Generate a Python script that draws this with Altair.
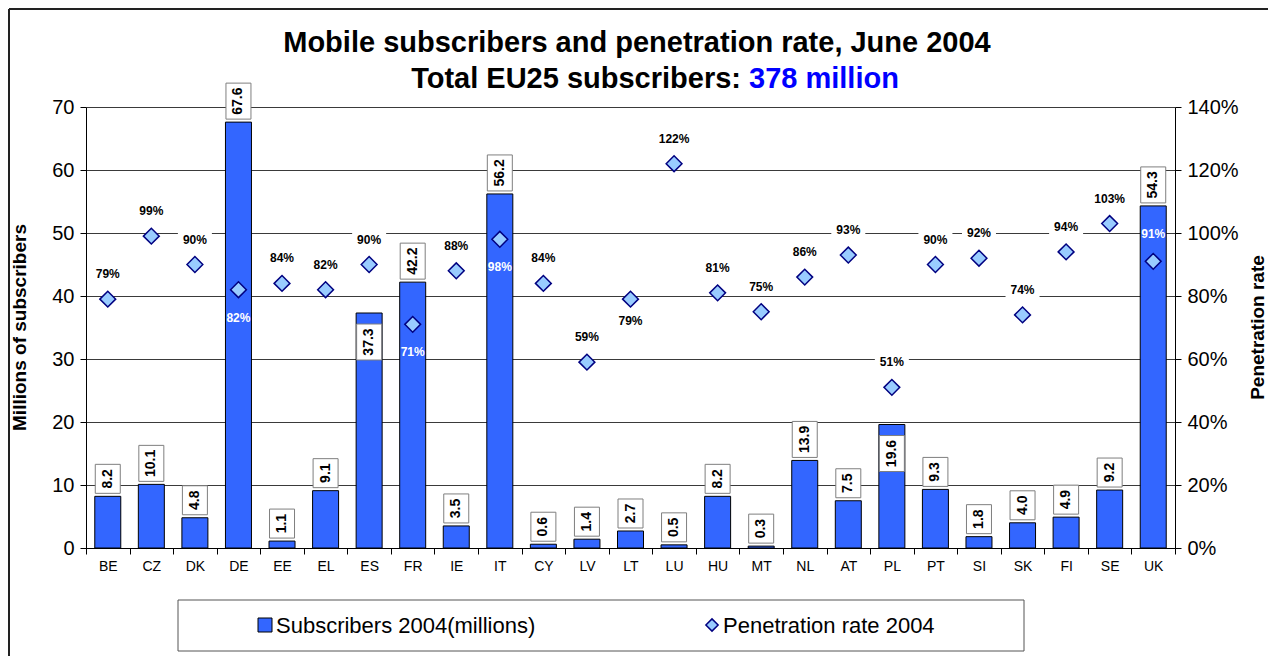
import altair as alt
import pandas as pd

# ---------------- data ----------------
countries = ["BE", "CZ", "DK", "DE", "EE", "EL", "ES", "FR", "IE", "IT", "CY", "LV", "LT",
             "LU", "HU", "MT", "NL", "AT", "PL", "PT", "SI", "SK", "FI", "SE", "UK"]
subscribers = [8.2, 10.1, 4.8, 67.6, 1.1, 9.1, 37.3, 42.2, 3.5, 56.2, 0.6, 1.4, 2.7,
               0.5, 8.2, 0.3, 13.9, 7.5, 19.6, 9.3, 1.8, 4.0, 4.9, 9.2, 54.3]
penetration = [0.79, 0.99, 0.90, 0.82, 0.84, 0.82, 0.90, 0.71, 0.88, 0.98, 0.84, 0.59, 0.79,
               1.22, 0.81, 0.75, 0.86, 0.93, 0.51, 0.90, 0.92, 0.74, 0.94, 1.03, 0.91]
left_ticks = [0, 10, 20, 30, 40, 50, 60, 70]
right_ticks = [0, 0.2, 0.4, 0.6, 0.8, 1.0, 1.2, 1.4]

title_line1 = "Mobile subscribers and penetration rate, June 2004"
title_line2a = "Total EU25 subscribers:"
title_line2b = "378 million"
left_title = "Millions of subscribers"
right_title = "Penetration rate"
legend_bar = "Subscribers 2004(millions)"
legend_point = "Penetration rate 2004"

# label placement groups (style, not data)
value_label_inside = ["ES", "PL"]
pen_label_below = ["LT"]
pen_label_white_below = ["DE", "FR", "IT"]
pen_label_white_above = ["UK"]

df = pd.DataFrame({"country": countries, "subs": subscribers, "pen": penetration})
df["subs_label"] = df["subs"].map(lambda v: f"{v:.1f}")
df["pen_label"] = df["pen"].map(lambda v: f"{round(v * 100)}%")
df["inside"] = df["country"].isin(value_label_inside)
df["grp"] = "above"
df.loc[df["country"].isin(pen_label_below), "grp"] = "below"
df.loc[df["country"].isin(pen_label_white_below), "grp"] = "wbelow"
df.loc[df["country"].isin(pen_label_white_above), "grp"] = "wabove"

FONT = "Liberation Sans"
BLUE = "#3366FF"
W, H = 1089, 441

yL = alt.Scale(domain=[0, 70], nice=False, zero=True)
yR = alt.Scale(domain=[0, 1.4], nice=False, zero=True)
xs = alt.Scale(paddingInner=0, paddingOuter=0)

x_axis = alt.Axis(labelAngle=0, labelFontSize=14, labelColor="black",
                  tickBand="extent", tickSize=6, tickColor="black",
                  domainColor="black", labelPadding=5)
XX = alt.X("country:N", sort=countries, scale=xs, title=None, axis=x_axis)

base = alt.Chart(df)

bars = base.mark_bar(size=26, color=BLUE, stroke="black", strokeWidth=1).encode(
    x=XX,
    y=alt.Y("subs:Q", scale=yL, title=None,
            axis=alt.Axis(orient="left", values=left_ticks, grid=True, gridColor="#3a3a3a",
                          gridWidth=1, labelFontSize=20, labelColor="black", tickSize=6,
                          tickColor="black", domainColor="black", labelPadding=6)),
)


def value_box(filt, top, h):
    return base.transform_filter(filt).mark_bar(
        size=25, fill="white", stroke="#7f7f7f", strokeWidth=1,
        yOffset=top, y2Offset=top - h).encode(
        x=XX, y=alt.Y("subs:Q", scale=yL, axis=None), y2="subs:Q")


def value_text(filt, off):
    return base.transform_filter(filt).mark_text(
        angle=270, fontSize=14, fontWeight="bold", color="black",
        align="center", baseline="middle", yOffset=off).encode(
        x=XX, y=alt.Y("subs:Q", scale=yL, axis=None), text="subs_label:N")


f3 = "!datum.inside && length(datum.subs_label) == 3"
f4 = "!datum.inside && length(datum.subs_label) == 4"
fin = "datum.inside"

vlayers = [
    value_box(f3, -3, 29), value_text(f3, -17.5),
    value_box(f4, -3, 36), value_text(f4, -21),
    value_box(fin, 47, 36), value_text(fin, 29),
]

diamonds = base.mark_point(shape="diamond", filled=True, fill="#99CCFF", stroke="#000080",
                           strokeWidth=1.5, size=250, opacity=1).encode(
    x=XX,
    y=alt.Y("pen:Q", scale=yR, title=None,
            axis=alt.Axis(orient="right", values=right_ticks, format=".0%", grid=False,
                          labelFontSize=20, labelColor="black", tickSize=6,
                          tickColor="black", domainColor="black", labelPadding=6)),
)


def pen_bg(grp, off):
    return base.transform_filter(f"datum.grp == '{grp}'").mark_bar(
        size=34, fill="white", yOffset=off - 7, y2Offset=off + 7).encode(
        x=XX, y=alt.Y("pen:Q", scale=yR, axis=None), y2="pen:Q")


def pen_text(grp, off, color):
    return base.transform_filter(f"datum.grp == '{grp}'").mark_text(
        fontSize=12, fontWeight="bold", color=color, align="center",
        baseline="middle", yOffset=off).encode(
        x=XX, y=alt.Y("pen:Q", scale=yR, axis=None), text="pen_label:N")


players = [
    pen_bg("above", -25), pen_text("above", -25, "black"),
    pen_bg("below", 22), pen_text("below", 22, "black"),
    pen_text("wbelow", 28, "white"),
    pen_text("wabove", -27, "white"),
]

one = pd.DataFrame({"k": [0]})
ann = alt.Chart(one)

t1 = ann.mark_text(text=title_line1, fontSize=29, fontWeight="bold", color="black",
                   align="center", baseline="alphabetic").encode(
    x=alt.value(551), y=alt.value(-55))
t2a = ann.mark_text(text=title_line2a, fontSize=29, fontWeight="bold", color="black",
                    align="right", baseline="alphabetic").encode(
    x=alt.value(655), y=alt.value(-19))
t2b = ann.mark_text(text=title_line2b, fontSize=29, fontWeight="bold", color="#0000FF",
                    align="left", baseline="alphabetic").encode(
    x=alt.value(663), y=alt.value(-19))
lt = ann.mark_text(text=left_title, fontSize=19, fontWeight="bold", color="black", angle=270,
                   align="center", baseline="middle").encode(
    x=alt.value(-66), y=alt.value(H / 2))
rt = ann.mark_text(text=right_title, fontSize=19, fontWeight="bold", color="black", angle=270,
                   align="center", baseline="middle").encode(
    x=alt.value(1172), y=alt.value(H / 2))

border_v = ann.mark_rule(color="#222222", strokeWidth=2).encode(
    x=alt.value(-77), y=alt.value(-98), y2=alt.value(700))
border_h = ann.mark_rule(color="#222222", strokeWidth=2).encode(
    x=alt.value(-77), x2=alt.value(1300), y=alt.value(-98))

leg_box = ann.mark_rect(fill="white", stroke="#555555", strokeWidth=1).encode(
    x=alt.value(92), x2=alt.value(938), y=alt.value(493), y2=alt.value(544))
leg_sq = ann.mark_square(size=196, fill=BLUE, stroke="black", strokeWidth=1, opacity=1).encode(
    x=alt.value(179), y=alt.value(518))
leg_t1 = ann.mark_text(text=legend_bar, fontSize=22, color="black", align="left",
                       baseline="middle").encode(x=alt.value(190), y=alt.value(519))
leg_dm = ann.mark_point(shape="diamond", filled=True, fill="#99CCFF", stroke="#000080",
                        strokeWidth=1.5, size=150, opacity=1).encode(
    x=alt.value(626), y=alt.value(518))
leg_t2 = ann.mark_text(text=legend_point, fontSize=22, color="black", align="left",
                       baseline="middle").encode(x=alt.value(637), y=alt.value(519))

chart = alt.layer(
    bars, *vlayers, diamonds, *players,
    t1, t2a, t2b, lt, rt, border_v, border_h,
    leg_box, leg_sq, leg_t1, leg_dm, leg_t2,
).resolve_scale(y="independent").properties(
    width=W, height=H,
    autosize=alt.AutoSizeParams(type="none"),
    padding={"left": 78, "top": 99, "right": 93, "bottom": 108},
).configure(font=FONT).configure_view(stroke=None)

chart.save("out.html", embed_options={"renderer": "svg", "actions": False})
